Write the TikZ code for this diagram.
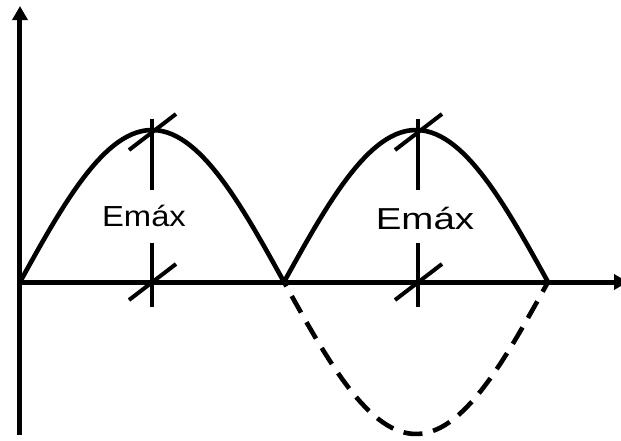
\documentclass[tikz,border=0pt]{standalone}
\usepackage{fontspec}
\usepackage{graphicx}
\setsansfont{Liberation Sans}
\usetikzlibrary{arrows.meta}
\usepackage{xcolor}
\definecolor{ink}{HTML}{000000}

\begin{document}
\begin{tikzpicture}[
    x=1pt, y=1pt,
    axis/.style={draw=ink, line width=5pt, -{Triangle[length=14pt,width=15pt]}},
    wave/.style={draw=ink, line width=4.6pt},
    mirror/.style={wave, dash pattern=on 19pt off 11pt, dash phase=14pt},
    tickmark/.style={draw=ink, line width=4pt},
    valtext/.style={font=\sffamily\fontsize{29}{30}\selectfont, text=ink, anchor=base, inner sep=0pt}
]
\useasboundingbox (-20,-158) rectangle (601,282);
\def\H{152}
\def\P{264}

% Axes.
\draw[axis] (0,-153) -- (0,276);
\draw[axis] (-3,0) -- (608,0);

% Two positive half waves, the negative one dashed.
\foreach \a in {0,\P} {
    \draw[wave] plot[domain=0:180, samples=60] ({\a+\P/180*\x}, {\H*sin(\x)});
}
\draw[mirror] plot[domain=0:180, samples=60] ({\P+\P/180*\x}, {-\H*sin(\x)});

\coordinate (pk1) at (132,\H);
\coordinate (zc1) at (132,0);
\coordinate (pk2) at (398,\H);
\coordinate (zc2) at (398,0);

\node[valtext] (emax1) at (124,55.3) {\scalebox{1.13}[1]{Emáx}};
\node[valtext, font=\sffamily\fontsize{30.3}{31}\selectfont] (emax2) at (405,52.7) {\scalebox{1.27}[1]{Emáx}};

% Amplitude marks.
\foreach \n in {1,2} {
    \draw[tickmark] (pk\n) ++(0,11) -- ++(0,-71);
    \draw[tickmark] (zc\n) ++(0,39) -- ++(0,-64);
    \draw[tickmark] (pk\n) ++(-23,-20) -- ++(47,36);
    \draw[tickmark] (zc\n) ++(-23,-18) -- ++(47,36);
}
\end{tikzpicture}
\end{document}
